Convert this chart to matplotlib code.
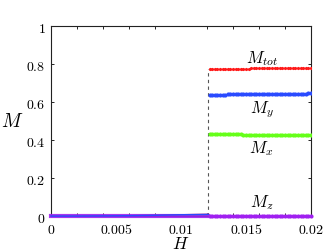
import numpy as np
import matplotlib
matplotlib.use("Agg")
import matplotlib.pyplot as plt
from matplotlib.ticker import MultipleLocator

plt.rcParams['mathtext.fontset'] = 'cm'
plt.rcParams['font.family'] = 'DejaVu Serif'

# Field values before the transition (low-field branch)
H_low = [0.0, 0.002, 0.004, 0.006, 0.008, 0.010, 0.0121]
Mtot_low = [0.000, 0.000, 0.001, 0.002, 0.004, 0.007, 0.009]
My_low = [0.000, 0.000, 0.001, 0.002, 0.004, 0.007, 0.009]
Mx_low = [0.000, 0.000, 0.000, 0.001, 0.001, 0.002, 0.003]
Mz_low = [0.002, 0.002, 0.002, 0.002, 0.002, 0.002, 0.002]

# High-field branch (after the jump)
H_high = list(np.round(np.linspace(0.0122, 0.0200, 40), 5))
Mtot_high = [0.774, 0.774, 0.774, 0.774, 0.775, 0.775, 0.775, 0.775, 0.775, 0.775,
             0.776, 0.776, 0.776, 0.776, 0.776, 0.776, 0.777, 0.777, 0.777, 0.777,
             0.777, 0.777, 0.777, 0.778, 0.778, 0.778, 0.778, 0.778, 0.778, 0.778,
             0.779, 0.779, 0.779, 0.779, 0.779, 0.779, 0.779, 0.780, 0.780, 0.780]
My_high = [0.638, 0.638, 0.638, 0.639, 0.639, 0.639, 0.639, 0.640, 0.640, 0.640,
           0.640, 0.640, 0.641, 0.641, 0.641, 0.641, 0.641, 0.642, 0.642, 0.642,
           0.642, 0.642, 0.643, 0.643, 0.643, 0.643, 0.643, 0.643, 0.644, 0.644,
           0.644, 0.644, 0.644, 0.645, 0.645, 0.645, 0.645, 0.645, 0.646, 0.646]
Mx_high = [0.432, 0.432, 0.432, 0.431, 0.431, 0.431, 0.431, 0.431, 0.430, 0.430,
           0.430, 0.430, 0.430, 0.429, 0.429, 0.429, 0.429, 0.429, 0.428, 0.428,
           0.428, 0.428, 0.428, 0.428, 0.427, 0.427, 0.427, 0.427, 0.427, 0.426,
           0.426, 0.426, 0.426, 0.426, 0.426, 0.425, 0.425, 0.425, 0.425, 0.425]
Mz_high = [0.002] * 40

H_jump = 0.0121
Mtot_jump = 0.774

xticks = [0, 0.005, 0.01, 0.015, 0.02]
xtick_labels = ["0", "0.005", "0.01", "0.015", "0.02"]
yticks = [0, 0.2, 0.4, 0.6, 0.8, 1]
ytick_labels = ["0", "0.2", "0.4", "0.6", "0.8", "1"]

red = '#ff1a1a'
blue = '#2a4bff'
green = '#66ff1a'
purple = '#a020f0'

fig = plt.figure(figsize=(3.27, 2.53), dpi=100)
ax = fig.add_axes([0.156, 0.142, 0.795, 0.751])

# low branch
ax.plot(H_low, Mtot_low, color=red, lw=1.0, zorder=2, clip_on=False)
ax.plot(H_low, Mx_low, color=green, lw=1.0, zorder=2, clip_on=False)
ax.plot(H_low, Mz_low, color=purple, lw=3.0, alpha=0.9, zorder=3, clip_on=False)
ax.plot(H_low, My_low, color=blue, lw=1.0, zorder=4, clip_on=False)

# high branch, dotted markers
ax.plot(H_high, Mtot_high, 'o', color=red, ms=2.3, mec='none', zorder=3)
ax.plot(H_high, My_high, 'o', color=blue, ms=3.0, mec='none', zorder=3)
ax.plot(H_high, Mx_high, 'o', color=green, ms=3.0, mec='none', zorder=3)
ax.plot(H_high, Mz_high, 'o', color=purple, ms=3.0, mec='none', zorder=4, clip_on=False)

# dashed jump line
ax.plot([H_jump, H_jump], [0, Mtot_jump], color='#555555', lw=0.8,
        ls=(0, (3, 3)), zorder=1)

ax.set_xlim(0, 0.02)
ax.set_ylim(0, 1)

ax.set_xticks(xticks)
ax.set_xticklabels(["$" + t + "$" for t in xtick_labels], fontsize=10)
ax.set_yticks(yticks)
ax.set_yticklabels(["$" + t + "$" for t in ytick_labels], fontsize=10)
ax.xaxis.set_minor_locator(MultipleLocator(0.002))
ax.tick_params(axis='x', which='major', length=0, pad=4)
ax.tick_params(axis='x', which='minor', direction='in', length=2.5, top=True, bottom=True, width=0.6)
ax.tick_params(axis='y', which='major', direction='in', length=2.5, left=True, right=True, width=0.6, pad=4)

for s in ax.spines.values():
    s.set_linewidth(0.8)
    s.set_color('#222222')

ax.set_xlabel('$H$', fontsize=12.5)
ax.xaxis.set_label_coords(0.5, -0.10)
ax.set_ylabel('$M$', fontsize=14, rotation=0, va='center')
ax.yaxis.set_label_coords(-0.15, 0.5)

ax.text(0.0162, 0.835, '$M_{tot}$', fontsize=12, ha='center', va='center')
ax.text(0.0162, 0.565, '$M_{y}$', fontsize=12, ha='center', va='center')
ax.text(0.0162, 0.36, '$M_{x}$', fontsize=12, ha='center', va='center')
ax.text(0.0162, 0.075, '$M_{z}$', fontsize=12, ha='center', va='center')

fig.savefig('out.png', dpi=100)
